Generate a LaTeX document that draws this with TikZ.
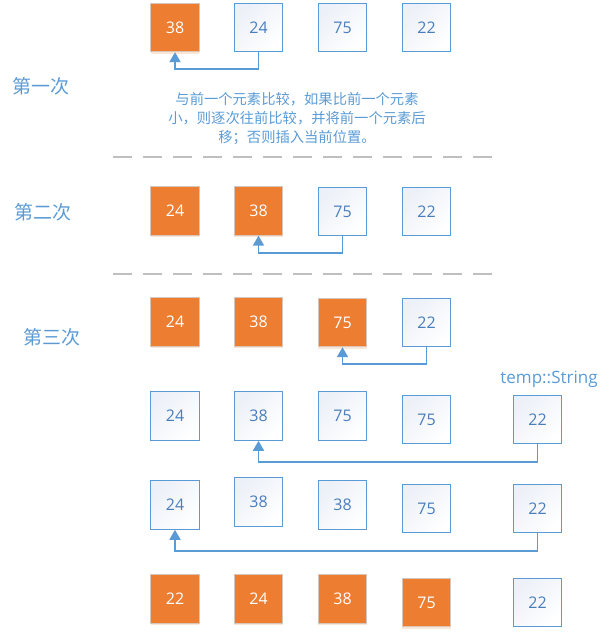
\documentclass[tikz,border=0pt]{standalone}
\usepackage{fontspec}
\setmainfont{Open Sans}
\newfontfamily\cjk{Noto Sans CJK SC}
\usetikzlibrary{arrows.meta,shadows}
\definecolor{orng}{HTML}{ED7D31}
\definecolor{obrd}{HTML}{D8C6BA}
\definecolor{bbrd}{HTML}{5B9BD5}
\definecolor{btxt}{HTML}{4A7EBB}
\definecolor{lbl}{HTML}{5B9BD5}
\definecolor{bfill}{HTML}{ECF0F8}
\definecolor{dgray}{HTML}{BFBFBF}
\tikzset{
  box/.style={minimum width=48.5pt,minimum height=48.5pt,inner sep=0pt,font=\fontsize{16}{18}\selectfont},
  ob/.style={box,fill=orng,draw=obrd,line width=0.8pt,text=white,
    drop shadow={shadow xshift=0pt,shadow yshift=-2pt,fill=orng!45,opacity=0.45}},
  wb/.style={box,draw=bbrd,line width=1.1pt,text=btxt,top color=bfill,bottom color=white,shading angle=45},
  arr/.style={draw=bbrd,line width=1.8pt,-{Triangle[length=10pt,width=11pt]}},
  sep/.style={draw=dgray,line width=1.3pt,dash pattern=on 19pt off 11pt},
  lab/.style={text=lbl,font=\cjk\fontsize{19}{22}\selectfont},
}
\begin{document}
\begin{tikzpicture}[x=1pt,y=-1pt]
\useasboundingbox (0,0) rectangle (615,637);
% row 1
\node[ob] (a1) at (175,27.5) {38};
\node[wb] (a2) at (258.5,27.5) {24};
\node[wb] (a3) at (342.5,27.5) {75};
\node[wb] (a4) at (426.5,27.5) {22};
\draw[arr] (a2.south) -- ++(0,17) -| (a1.south);
\node[lab] (l1) at (41,86) {第一次};
\node[text=lbl,font=\cjk\fontsize{14.3}{19}\selectfont,align=center] (d1) at (297,119)
  {与前一个元素比较，如果比前一个元素\\小，则逐次往前比较，并将前一个元素后\\移；否则插入当前位置。};
\coordinate (s1a) at (113,157);
\coordinate (s1b) at (492,157);
\draw[sep] (s1a) -- (s1b);
% row 2
\node[ob] (b1) at (175,211) {24};
\node[ob] (b2) at (258.5,211) {38};
\node[wb] (b3) at (342.5,211.5) {75};
\node[wb] (b4) at (426.5,211.5) {22};
\draw[arr] (b3.south) -- ++(0,17) -| (b2.south);
\node[lab] (l2) at (43,212) {第二次};
\coordinate (s2a) at (113,274);
\coordinate (s2b) at (492,274);
\draw[sep] (s2a) -- (s2b);
% row 3
\node[ob] (c1) at (175,322) {24};
\node[ob] (c2) at (258.5,322) {38};
\node[ob] (c3) at (342.5,322.5) {75};
\node[wb] (c4) at (426.5,322.5) {22};
\draw[arr] (c4.south) -- ++(0,17) -| (c3.south);
\node[lab] (l3) at (52,337) {第三次};
% temp label
\node[text=lbl,font=\fontsize{17}{20}\selectfont] (tmp) at (549,379) {temp::String};
% row 4
\node[wb] (d1b) at (175,416) {24};
\node[wb] (d2) at (258.5,416) {38};
\node[wb] (d3) at (342.5,416) {75};
\node[wb] (d4) at (426.5,419.5) {75};
\node[wb] (d5) at (537.5,419.5) {22};
\draw[arr] (d5.south) -- ++(0,18) -| (d2.south);
% row 5
\node[wb] (e1) at (175,505) {24};
\node[wb] (e2) at (258.5,502) {38};
\node[wb] (e3) at (342.5,505) {38};
\node[wb] (e4) at (426.5,508.5) {75};
\node[wb] (e5) at (537.5,508.5) {22};
\draw[arr] (e5.south) -- ++(0,18) -| (e1.south);
% row 6
\node[ob] (f1) at (175,599) {22};
\node[ob] (f2) at (258.5,599) {24};
\node[ob] (f3) at (342.5,599) {38};
\node[ob] (f4) at (426.5,602.5) {75};
\node[wb] (f5) at (537.5,602.5) {22};
\end{tikzpicture}
\end{document}
